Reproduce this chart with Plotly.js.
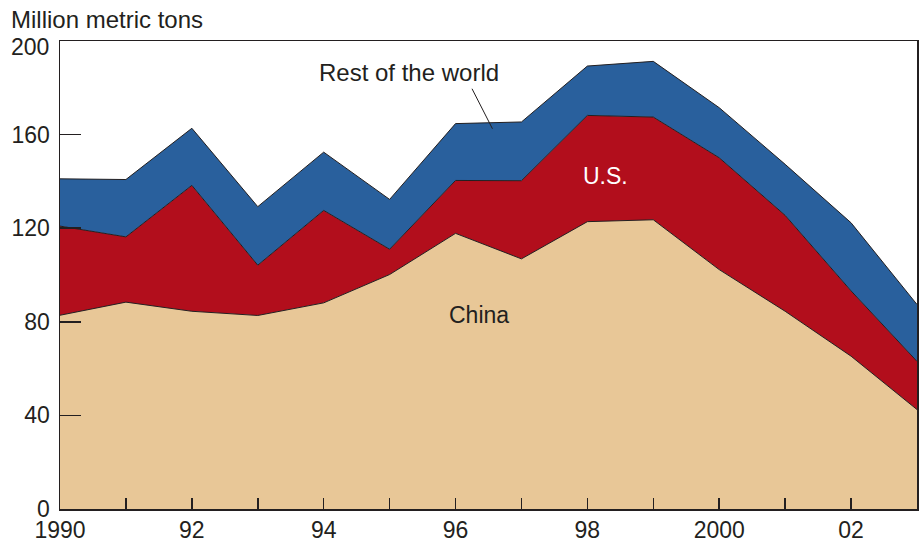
<!DOCTYPE html>
<html>
<head>
<meta charset="utf-8">
<script src="https://cdn.plot.ly/plotly-3.0.1.min.js"></script>
<style>html,body{margin:0;padding:0;background:#fff;}#chart{width:919px;height:539px;}</style>
</head>
<body>
<div id="chart"></div>
<script>
const years = [1990,1991,1992,1993,1994,1995,1996,1997,1998,1999,2000,2001,2002,2003];
const china = [82.8, 88.4, 84.5, 82.7, 88.1, 100.2, 117.8, 106.9, 122.8, 123.6, 102.3, 84.5, 65.3, 42.5];
const us = [38.1, 27.9, 53.8, 21.5, 39.5, 10.8, 22.6, 33.4, 45.4, 43.9, 47.8, 41.0, 27.9, 20.6];
const restOfWorld = [20.2, 24.5, 24.4, 25.0, 24.9, 21.3, 24.3, 25.1, 21.1, 23.8, 21.4, 21.8, 29.1, 24.3];
const xTickText = ['1990','','92','','94','','96','','98','','2000','','02',''];
const yTicks = [0,40,80,120,160,200];
const yTickText = ['0','40','80','120','160',''];

const FONT = 'Liberation Sans, Arial, Helvetica, sans-serif';
const INK = '#231f20';

const traces = [
  {x: years, y: china, name: 'China', type: 'scatter', mode: 'lines', stackgroup: 'one',
   line: {color: INK, width: 1}, fillcolor: '#e8c797', hoverinfo: 'skip'},
  {x: years, y: us, name: 'U.S.', type: 'scatter', mode: 'lines', stackgroup: 'one',
   line: {color: INK, width: 1}, fillcolor: '#b20e1c', hoverinfo: 'skip'},
  {x: years, y: restOfWorld, name: 'Rest of the world', type: 'scatter', mode: 'lines', stackgroup: 'one',
   line: {color: INK, width: 1}, fillcolor: '#29609d', hoverinfo: 'skip'}
];

const layout = {
  width: 919, height: 539,
  margin: {l: 60, r: 2, t: 41, b: 30, pad: 0},
  paper_bgcolor: '#fff', plot_bgcolor: '#fff',
  showlegend: false,
  font: {family: FONT, size: 23, color: INK},
  xaxis: {
    range: [1990, 2003], tickvals: years, ticktext: xTickText,
    ticks: 'inside', ticklen: 11, tickwidth: 1.5, tickcolor: INK,
    showline: true, linecolor: INK, linewidth: 1.5, mirror: true,
    showgrid: false, zeroline: false, fixedrange: true,
    tickfont: {family: FONT, size: 23, color: INK}
  },
  yaxis: {
    range: [0, 200], tickvals: yTicks, ticktext: yTickText,
    ticks: 'inside', ticklen: 21, tickwidth: 1.5, tickcolor: INK,
    showline: true, linecolor: INK, linewidth: 1.5, mirror: true,
    showgrid: false, zeroline: false, fixedrange: true,
    ticklabelstandoff: 4,
    tickfont: {family: FONT, size: 23, color: INK}
  },
  annotations: [
    {text: 'Million metric tons', xref: 'paper', yref: 'paper', x: -0.060, y: 1.047,
     xanchor: 'left', yanchor: 'middle', showarrow: false, font: {family: FONT, size: 24, color: INK}},
    {text: String(yTicks[5]), xref: 'paper', yref: 'y', x: -0.0105, y: yTicks[5] - 2.5,
     xanchor: 'right', yanchor: 'middle', showarrow: false, font: {family: FONT, size: 23, color: INK}},
    {text: 'Rest of the world', xref: 'x', yref: 'y', x: 1995.3, y: 186.5,
     xanchor: 'center', yanchor: 'middle', showarrow: false, font: {family: FONT, size: 24, color: INK}},
    {text: 'U.S.', xref: 'x', yref: 'y', x: 1998.27, y: 142.3,
     xanchor: 'center', yanchor: 'middle', showarrow: false, font: {family: FONT, size: 23, color: '#ffffff'}},
    {text: 'China', xref: 'x', yref: 'y', x: 1996.36, y: 82.8,
     xanchor: 'center', yanchor: 'middle', showarrow: false, font: {family: FONT, size: 23, color: INK}}
  ],
  shapes: [
    {type: 'line', xref: 'x', yref: 'y', x0: 1996.25, y0: 179.6, x1: 1996.56, y1: 162.5,
     line: {color: INK, width: 1}}
  ]
};

Plotly.newPlot('chart', traces, layout, {displayModeBar: false, staticPlot: true});
</script>
</body>
</html>
